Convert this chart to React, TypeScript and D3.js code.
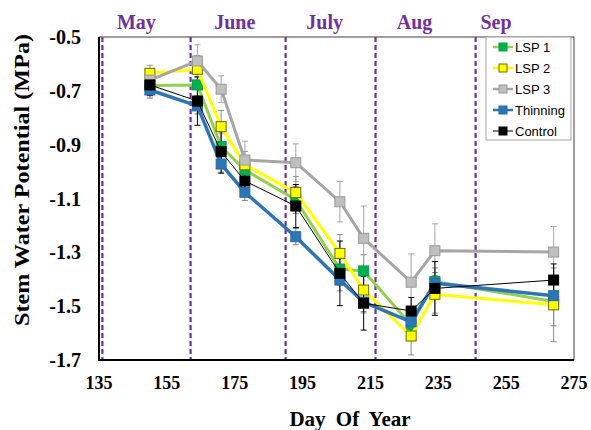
import React from "react";
import * as d3 from "d3";

// Sampling days (day of year)
const days = [150, 164, 171, 178, 193, 206, 213, 227, 234, 269];

// Mean stem water potential (MPa) per treatment
const lsp1 = [-0.68, -0.678, -0.907, -0.994, -1.105, -1.362, -1.369, -1.57, -1.408, -1.483];
const lsp2 = [-0.635, -0.62, -0.833, -0.975, -1.078, -1.304, -1.44, -1.611, -1.456, -1.495];
const lsp3 = [-0.66, -0.589, -0.694, -0.957, -0.967, -1.112, -1.248, -1.411, -1.294, -1.299];
const thinning = [-0.697, -0.756, -0.972, -1.077, -1.242, -1.403, -1.485, -1.558, -1.415, -1.461];
const control = [-0.678, -0.738, -0.926, -1.035, -1.128, -1.378, -1.489, -1.518, -1.434, -1.403];

// Standard errors (MPa)
const lsp1Err = [0.03, 0.04, 0.05, 0.04, 0.05, 0.06, 0.06, 0.05, 0.05, 0.09];
const lsp2Err = [0.03, 0.05, 0.06, 0.05, 0.06, 0.07, 0.08, 0.07, 0.07, 0.137];
const lsp3Err = [0.04, 0.06, 0.05, 0.07, 0.07, 0.075, 0.12, 0.105, 0.1, 0.095];
const thinErr = [0.03, 0.03, 0.03, 0.03, 0.03, 0.04, 0.04, 0.04, 0.04, 0.05];
const ctrlErr = [0.04, 0.09, 0.08, 0.05, 0.08, 0.12, 0.1, 0.05, 0.1, 0.06];

// Month boundaries and labels
const monthLines = [136, 162, 190, 216.5, 246];
const monthNames = ["May", "June", "July", "Aug", "Sep"];
const monthLabelDays = [146, 175, 201.5, 228, 252];

const xTicks = [135, 155, 175, 195, 215, 235, 255, 275];
const yTicks = [-0.5, -0.7, -0.9, -1.1, -1.3, -1.5, -1.7];

const seriesNames = ["LSP 1", "LSP 2", "LSP 3", "Thinning", "Control"];
const seriesValues = [lsp1, lsp2, lsp3, thinning, control];
const seriesErrors = [lsp1Err, lsp2Err, lsp3Err, thinErr, ctrlErr];

const styles = [
  { line: "#92D050", width: 3, fill: "#00B050", stroke: "#00A04A", err: "#7F7F7F" },
  { line: "#FFFF00", width: 3, fill: "#FFFF00", stroke: "#6B6B00", err: "#8C8C8C" },
  { line: "#A6A6A6", width: 3, fill: "#BFBFBF", stroke: "#9A9A9A", err: "#A6A6A6" },
  { line: "#2E75B6", width: 3.5, fill: "#2E75B6", stroke: "#2A6BA8", err: "#7F7F7F" },
  { line: "#000000", width: 1, fill: "#000000", stroke: "#000000", err: "#000000" },
];

const W = 591;
const H = 430;
const L = 99, R = 574, T = 37, B = 360;
const purple = "#7030A0";
const serif = "'Liberation Serif', 'Times New Roman', serif";
const sans = "'Liberation Sans', Arial, sans-serif";

export default function App() {
  const x = d3.scaleLinear().domain([135, 275]).range([L, R]);
  const y = d3.scaleLinear().domain([-1.7, -0.5]).range([B, T]);
  const line = d3
    .line<[number, number]>()
    .x((d) => x(d[0]))
    .y((d) => y(d[1]));
  const ms = 10;
  const cap = 3;

  return (
    <svg
      width={W}
      height={H}
      style={{ position: "absolute", left: 0, top: 0, background: "#fff" }}
    >
      <rect x={0} y={0} width={W} height={H} fill="#fff" />

      {/* plot frame */}
      <rect x={L} y={T} width={R - L} height={B - T} fill="none" stroke="#404040" strokeWidth={1} />

      {/* month separators */}
      {monthLines.map((d, i) => (
        <line
          key={"m" + i}
          x1={x(d)}
          x2={x(d)}
          y1={T}
          y2={B}
          stroke={purple}
          strokeWidth={2.2}
          strokeDasharray="5,3"
        />
      ))}
      {monthNames.map((m, i) => (
        <text
          key={"mn" + i}
          x={x(monthLabelDays[i])}
          y={29}
          textAnchor="middle"
          fontFamily={serif}
          fontWeight="bold"
          fontSize={20}
          fill={purple}
        >
          {m}
        </text>
      ))}

      {/* error bars */}
      {seriesValues.map((vals, si) =>
        vals.map((v, i) => {
          const e = seriesErrors[si][i];
          const cx = x(days[i]);
          return (
            <g key={`e${si}-${i}`} stroke={styles[si].err} strokeWidth={1}>
              <line x1={cx} x2={cx} y1={y(v + e)} y2={y(v - e)} />
              <line x1={cx - cap} x2={cx + cap} y1={y(v + e)} y2={y(v + e)} />
              <line x1={cx - cap} x2={cx + cap} y1={y(v - e)} y2={y(v - e)} />
            </g>
          );
        })
      )}

      {/* series lines and markers */}
      {seriesValues.map((vals, si) => (
        <g key={"s" + si}>
          <path
            d={line(vals.map((v, i) => [days[i], v] as [number, number])) || ""}
            fill="none"
            stroke={styles[si].line}
            strokeWidth={styles[si].width}
            strokeLinejoin="round"
          />
          {vals.map((v, i) => (
            <rect
              key={i}
              x={x(days[i]) - ms / 2}
              y={y(v) - ms / 2}
              width={ms}
              height={ms}
              fill={styles[si].fill}
              stroke={styles[si].stroke}
              strokeWidth={1}
            />
          ))}
        </g>
      ))}

      {/* axes lines */}
      <line x1={L} x2={L} y1={T} y2={B + 1} stroke="#000" strokeWidth={2} />
      <line x1={L - 1} x2={R} y1={B} y2={B} stroke="#000" strokeWidth={2} />

      {/* tick labels */}
      {yTicks.map((t) => (
        <text
          key={"y" + t}
          x={81}
          y={y(t) + 7}
          textAnchor="end"
          fontFamily={serif}
          fontWeight="bold"
          fontSize={20}
          fill="#000"
        >
          {t.toFixed(1)}
        </text>
      ))}
      {xTicks.map((t) => (
        <text
          key={"x" + t}
          x={x(t)}
          y={389}
          textAnchor="middle"
          fontFamily={serif}
          fontWeight="bold"
          fontSize={18}
          fill="#000"
        >
          {t}
        </text>
      ))}

      {/* axis titles */}
      <text
        x={350}
        y={426}
        textAnchor="middle"
        fontFamily={serif}
        fontWeight="bold"
        fontSize={21}
        wordSpacing={5}
        fill="#000"
      >
        Day Of Year
      </text>
      <text
        transform={`translate(29,180) rotate(-90)`}
        textAnchor="middle"
        fontFamily={serif}
        fontWeight="bold"
        fontSize={20}
        textLength={292}
        lengthAdjust="spacingAndGlyphs"
        fill="#000"
      >
        Stem Water Potential (MPa)
      </text>

      {/* legend */}
      <g>
        <rect x={486} y={37} width={85} height={103} fill="#fff" stroke="#A6A6A6" strokeWidth={1} />
        {seriesNames.map((n, i) => {
          const ly = 47 + i * 21;
          const s = styles[i];
          return (
            <g key={"l" + i}>
              <line
                x1={493}
                x2={513}
                y1={ly}
                y2={ly}
                stroke={s.line}
                strokeWidth={Math.min(s.width, 2.5)}
              />
              <rect x={499} y={ly - 4} width={8} height={8} fill={s.fill} stroke={s.stroke} strokeWidth={1} />
              <text x={515} y={ly + 4.5} fontFamily={sans} fontSize={13} fill="#000">
                {n}
              </text>
            </g>
          );
        })}
      </g>
    </svg>
  );
}
